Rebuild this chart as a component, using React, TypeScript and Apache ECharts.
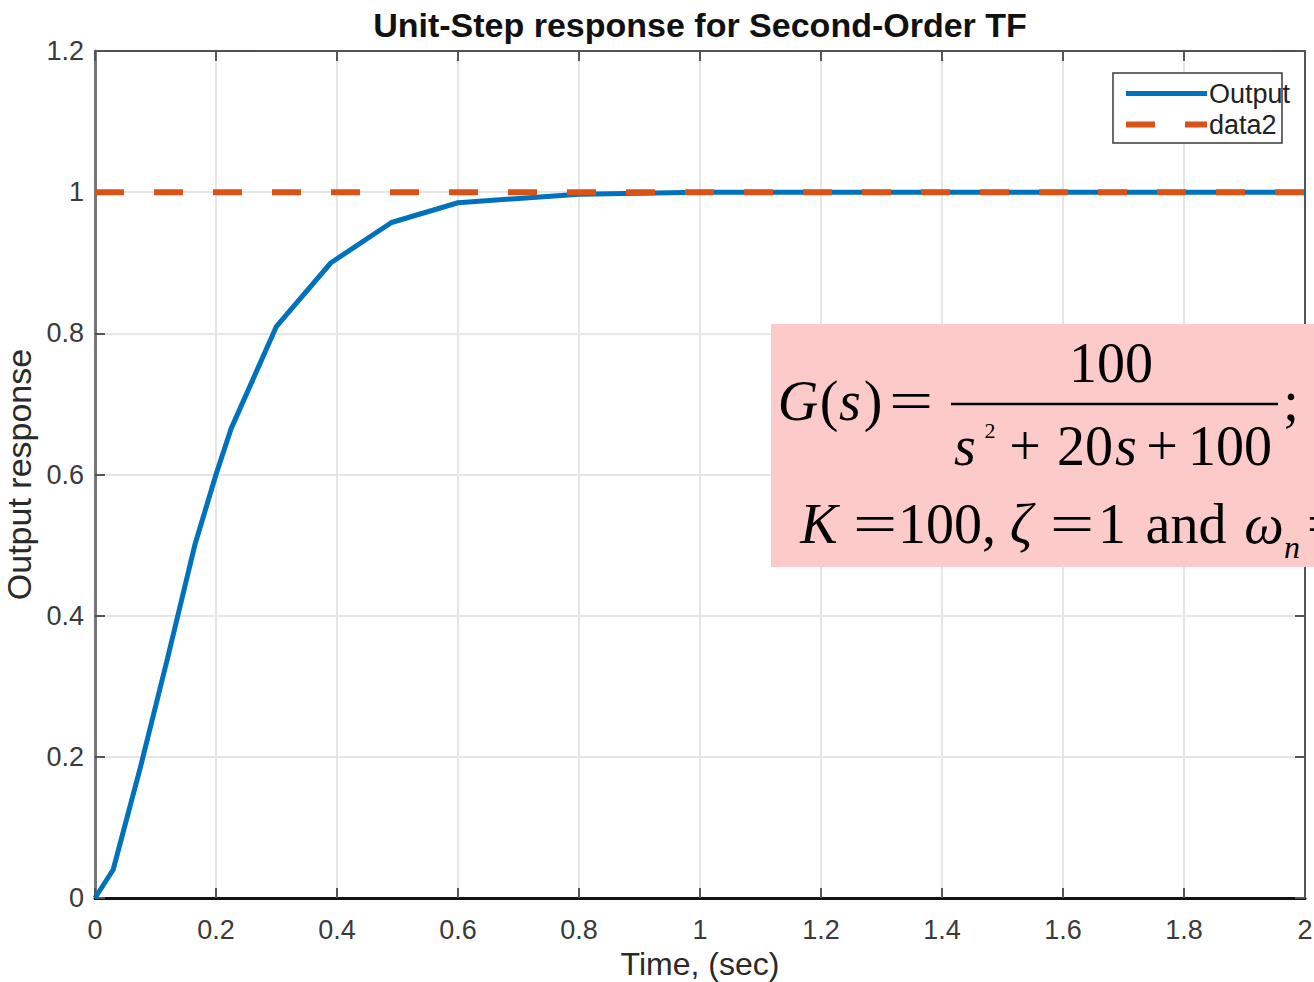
import React, { useEffect, useRef } from "react";
import * as echarts from "echarts";

// Unit-step response of G(s) = 100 / (s^2 + 20s + 100), sampled solver output
const TIME = [0, 0.03, 0.075, 0.12, 0.165, 0.2, 0.225, 0.3, 0.39, 0.49, 0.6, 0.8, 1.0, 2.0];
const OUTPUT = [0, 0.04, 0.185, 0.34, 0.5, 0.6, 0.665, 0.81, 0.9, 0.957, 0.985, 0.997, 1.0, 1.0];
// Reference (final value) line
const REF_TIME = [0, 2];
const REF_VALUE = [1, 1];

const X_MIN = 0;
const X_MAX = 2;
const X_STEP = 0.2;
const Y_MIN = 0;
const Y_MAX = 1.2;
const Y_STEP = 0.2;

const SERIES_NAMES = ["Output", "data2"];
const TITLE = "Unit-Step response for Second-Order TF";
const X_NAME = "Time, (sec)";
const Y_NAME = "Output response";

const BLUE = "#0072BD";
const ORANGE = "#D95319";
const SANS = '"Liberation Sans", Arial, Helvetica, sans-serif';
const SERIF = '"Liberation Serif", "Times New Roman", serif';

// one piece of the transfer-function annotation, centred on cx with its baseline at `base`
function eqText(
  text: string,
  cx: number,
  base: number,
  size: number,
  italic = false,
  align = "center",
  scaleX = 1
) {
  return {
    type: "text",
    x: cx,
    y: base - 0.3375 * size,
    scaleX,
    z: 5,
    silent: true,
    style: {
      text,
      fontFamily: SERIF,
      fontSize: size,
      fontStyle: italic ? "italic" : "normal",
      fill: "#000",
      align,
      verticalAlign: "middle",
    },
  };
}

export default function App() {
  const ref = useRef<HTMLDivElement>(null);

  useEffect(() => {
    if (!ref.current) return;
    const chart = echarts.init(ref.current, undefined, { renderer: "svg" });

    const outputData = TIME.map((t, i) => [t, OUTPUT[i]]);
    const refData = REF_TIME.map((t, i) => [t, REF_VALUE[i]]);

    const fs = 56;
    const r1 = 420;
    const num = 382;
    const den = 465;
    const r2 = 543;

    const option: any = {
      animation: false,
      backgroundColor: "#ffffff",
      grid: { left: 95, right: 9, top: 51, bottom: 84, containLabel: false, outerBoundsMode: "none" },
      legend: {
        data: SERIES_NAMES,
        orient: "vertical",
        left: 1123,
        top: 80,
        padding: 0,
        itemWidth: 81,
        itemHeight: 20,
        itemGap: 4,
        z: 6,
        selectedMode: false,
        itemStyle: { opacity: 0 },
        textStyle: { fontFamily: SANS, fontSize: 27, color: "#222", lineHeight: 27, padding: [0, 0, 0, -3] },
        lineStyle: { width: "inherit", type: "inherit" },
      },
      xAxis: [
        {
          type: "value",
          min: X_MIN,
          max: X_MAX,
          interval: X_STEP,
          name: X_NAME,
          nameLocation: "middle",
          nameGap: 50,
          nameTextStyle: { fontFamily: SANS, fontSize: 32, color: "#2a2a2a" },
          axisLine: { show: true, onZero: false, lineStyle: { color: "#111", width: 3 } },
          axisTick: { show: true, inside: true, length: 10, lineStyle: { color: "#555", width: 2 } },
          axisLabel: { margin: 18, fontFamily: SANS, fontSize: 27, color: "#3a3a3a" },
          splitLine: { show: true, lineStyle: { color: "#e6e6e6", width: 2 } },
        },
        {
          type: "value",
          position: "top",
          min: X_MIN,
          max: X_MAX,
          interval: X_STEP,
          axisLine: { show: true, onZero: false, lineStyle: { color: "#222", width: 1.5 } },
          axisTick: { show: true, inside: true, length: 10, lineStyle: { color: "#555", width: 2 } },
          axisLabel: { show: false },
          splitLine: { show: false },
        },
      ],
      yAxis: [
        {
          type: "value",
          min: Y_MIN,
          max: Y_MAX,
          interval: Y_STEP,
          name: Y_NAME,
          nameLocation: "middle",
          nameGap: 58,
          nameTextStyle: { fontFamily: SANS, fontSize: 34, color: "#2a2a2a" },
          axisLine: { show: true, onZero: false, lineStyle: { color: "#777", width: 3 } },
          axisTick: { show: true, inside: true, length: 10, lineStyle: { color: "#555", width: 2 } },
          axisLabel: { margin: 11, fontFamily: SANS, fontSize: 27, color: "#3a3a3a" },
          splitLine: { show: true, lineStyle: { color: "#e6e6e6", width: 2 } },
        },
        {
          type: "value",
          position: "right",
          min: Y_MIN,
          max: Y_MAX,
          interval: Y_STEP,
          axisLine: { show: true, onZero: false, lineStyle: { color: "#555", width: 2 } },
          axisTick: { show: true, inside: true, length: 10, lineStyle: { color: "#555", width: 2 } },
          axisLabel: { show: false },
          splitLine: { show: false },
        },
      ],
      series: [
        {
          name: SERIES_NAMES[0],
          type: "line",
          data: outputData,
          symbol: "none",
          showSymbol: false,
          smooth: false,
          color: BLUE,
          lineStyle: { color: BLUE, width: 5, cap: "butt", join: "round" },
          z: 2,
        },
        {
          name: SERIES_NAMES[1],
          type: "line",
          data: refData,
          symbol: "none",
          showSymbol: false,
          color: ORANGE,
          lineStyle: { color: ORANGE, width: 6, type: [29, 30], cap: "butt" },
          z: 3,
        },
      ],
      graphic: [
        {
          type: "text",
          x: 700,
          y: 24.5,
          silent: true,
          style: {
            text: TITLE,
            fontFamily: SANS,
            fontSize: 34,
            fontWeight: "bold",
            fill: "#111",
            align: "center",
            verticalAlign: "middle",
          },
        },
        // legend frame
        {
          type: "rect",
          z: 5,
          silent: true,
          shape: { x: 1113, y: 73, width: 169, height: 70 },
          style: { fill: "#ffffff", stroke: "#3a3a3a", lineWidth: 1.5 },
        },
        // annotation box
        {
          type: "rect",
          z: 4,
          silent: true,
          shape: { x: 771, y: 324, width: 620, height: 243 },
          style: { fill: "#fdcaca" },
        },
        eqText("G", 798, r1, fs, true),
        eqText("(", 829, r1, fs),
        eqText("s", 850, r1, fs, true),
        eqText(")", 873, r1, fs),
        eqText("=", 911, r1, fs, false, "center", 1.4),
        eqText("100", 1111, num, fs),
        {
          type: "line",
          z: 5,
          silent: true,
          shape: { x1: 951, y1: 404, x2: 1278, y2: 404 },
          style: { stroke: "#000", lineWidth: 2.5 },
        },
        eqText("s", 965, den, fs, true),
        eqText("2", 990, 438, 22),
        eqText("+", 1025, den, fs),
        eqText("20", 1085, den, fs),
        eqText("s", 1126, den, fs, true),
        eqText("+", 1162, den, fs),
        eqText("100", 1230, den, fs),
        eqText(";", 1291, r1, fs),
        eqText("K", 819, r2, fs, true),
        eqText("=", 875, r2, fs, false, "center", 1.4),
        eqText("100,", 898, r2, fs, false, "left"),
        eqText("ζ", 1021, r2, fs, true),
        eqText("=", 1072, r2, fs, false, "center", 1.4),
        eqText("1", 1112, r2, fs),
        eqText("and", 1186, r2, fs),
        eqText("ω", 1264, r2, fs, true),
        eqText("n", 1292, 558, 32, true),
        eqText("=", 1306, r2, fs, false, "left", 1.4),
      ],
    };

    chart.setOption(option);
    return () => chart.dispose();
  }, []);

  return (
    <div
      ref={ref}
      style={{ position: "fixed", left: 0, top: 0, width: 1314, height: 982, background: "#fff" }}
    />
  );
}
